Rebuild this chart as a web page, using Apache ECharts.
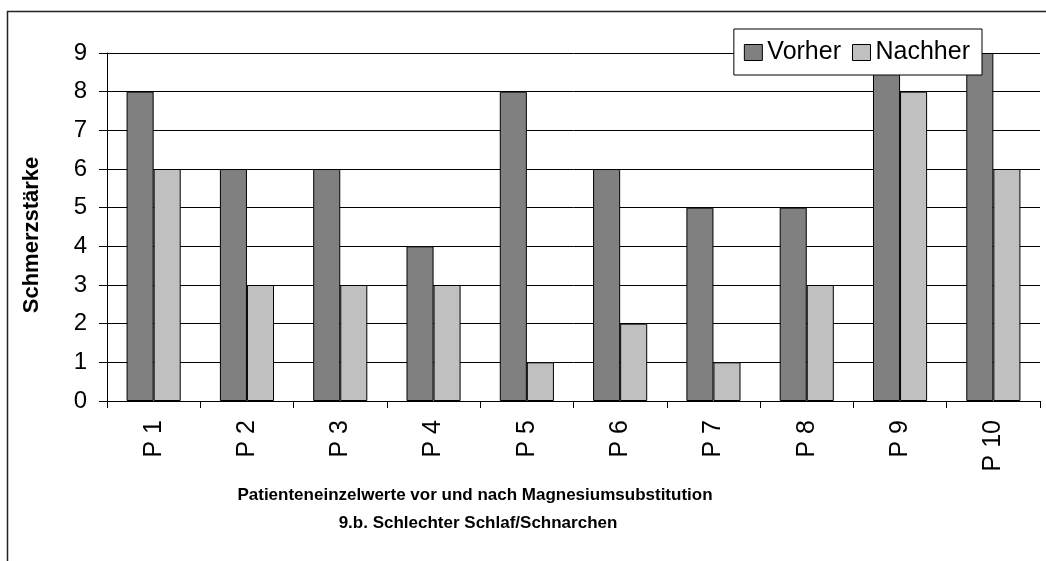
<!DOCTYPE html>
<html>
<head>
<meta charset="utf-8">
<script src="https://cdn.jsdelivr.net/npm/echarts@6/dist/echarts.min.js"></script>
<style>
html,body{margin:0;padding:0;background:#fff;}
#chart{width:1046px;height:561px;}
</style>
</head>
<body>
<div id="chart"></div>
<script>
const categories = ['P 1','P 2','P 3','P 4','P 5','P 6','P 7','P 8','P 9','P 10'];
const vorher = [8,6,6,4,8,6,5,5,9,9];
const nachher = [6,3,3,3,1,2,1,3,8,6];
const yTicks = [0,1,2,3,4,5,6,7,8,9];
const titleLines = ['Patienteneinzelwerte vor und nach Magnesiumsubstitution','9.b. Schlechter Schlaf/Schnarchen'];
const yName = 'Schmerzstärke';

const FONT = '"Liberation Sans", Arial, sans-serif';
const chart = echarts.init(document.getElementById('chart'), null, {renderer:'canvas'});
chart.setOption({
  animation:false,
  backgroundColor:'#fff',
  textStyle:{fontFamily:FONT},
  grid:{left:107,right:6,top:53,bottom:160,containLabel:false},
  legend:{
    right:64, top:29,
    backgroundColor:'#fff', borderColor:'#000', borderWidth:1,
    padding:[11,12,10,10],
    itemWidth:18, itemHeight:16, itemGap:11,
    icon:'rect',
    itemStyle:{borderColor:'#000',borderWidth:1},
    textStyle:{fontSize:25, color:'#000', fontFamily:FONT},
    z:10,
    data:['Vorher','Nachher']
  },
  xAxis:{
    type:'category', data:categories, boundaryGap:true,
    axisLine:{lineStyle:{color:'#000',width:1}},
    axisTick:{show:true,length:7,lineStyle:{color:'#000'},alignWithLabel:false},
    axisLabel:{rotate:90, fontSize:25, color:'#000', margin:19, fontFamily:FONT}
  },
  yAxis:{
    type:'value', min:yTicks[0], max:yTicks[yTicks.length-1], interval:1,
    axisLine:{show:true,lineStyle:{color:'#000',width:1}},
    axisTick:{show:true,length:8,lineStyle:{color:'#000'}},
    axisLabel:{fontSize:24,color:'#000',margin:20,fontFamily:FONT},
    splitLine:{show:true,lineStyle:{color:'#000',width:1}}
  },
  series:[
    {name:'Vorher', type:'bar', data:vorher, barGap:'0%', barCategoryGap:'42%',
     itemStyle:{color:'#808080', borderColor:'#000', borderWidth:1}},
    {name:'Nachher', type:'bar', data:nachher, barGap:'0%', barCategoryGap:'42%',
     itemStyle:{color:'#C0C0C0', borderColor:'#000', borderWidth:1}}
  ],
  graphic:[
    {type:'polyline', shape:{points:[[7.5,561],[7.5,11.5],[1046,11.5]]}, style:{stroke:'#222',lineWidth:1.5,fill:null}},
    {type:'text', x:32, y:235, rotation:Math.PI/2, style:{text:yName, font:'bold 22px '+FONT, fill:'#000', textAlign:'center', textVerticalAlign:'middle'}},
    {type:'text', style:{text:titleLines[0], font:'bold 17px '+FONT, fill:'#000', textAlign:'center', textVerticalAlign:'middle', x:475, y:495}},
    {type:'text', style:{text:titleLines[1], font:'bold 17px '+FONT, fill:'#000', textAlign:'center', textVerticalAlign:'middle', x:478, y:523}}
  ]
});
</script>
</body>
</html>
